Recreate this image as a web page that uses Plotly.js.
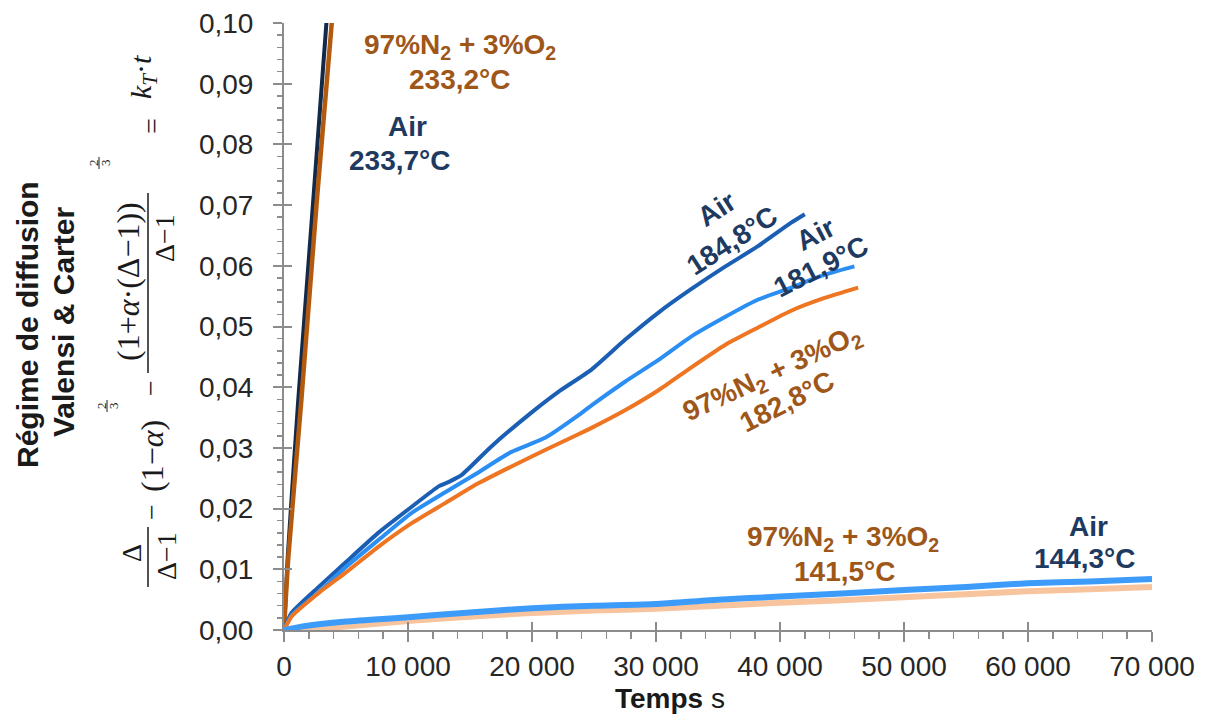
<!DOCTYPE html>
<html>
<head>
<meta charset="utf-8">
<script src="https://cdn.plot.ly/plotly-3.0.1.min.js"></script>
<style>html,body{margin:0;padding:0;background:#fff;}#chart{width:1208px;height:716px;}</style>
</head>
<body>
<div id="chart"></div>
<script>
// ---- Data (time in s, Valensi & Carter function) ----
const airHot_t   = [0, 300, 1150, 2360, 3420, 3600];
const airHot_v   = [0, 0.012, 0.0379, 0.0708, 0.1, 0.1045];
const n2Hot_t    = [0, 350, 1400, 2650, 3850, 4000];
const n2Hot_v    = [0, 0.012, 0.0379, 0.0708, 0.1, 0.104];

const air1848_t  = [0, 600, 2800, 5000, 7600, 10300, 12500, 13300, 14300, 16700, 20000, 22100, 24800, 27500, 30200, 32800, 35600, 38200, 40900, 42000];
const air1848_v  = [0, 0.0028, 0.0071, 0.0112, 0.0160, 0.0203, 0.0237, 0.0244, 0.0255, 0.0302, 0.0359, 0.0392, 0.0429, 0.0478, 0.0523, 0.0561, 0.0599, 0.0632, 0.0671, 0.0685];

const air1819_t  = [0, 600, 2800, 5000, 7600, 10300, 13000, 15700, 18300, 21100, 23700, 24800, 27500, 30200, 32800, 35600, 38200, 40900, 43000, 44400, 46000];
const air1819_v  = [0, 0.0024, 0.0062, 0.0104, 0.0148, 0.0193, 0.0227, 0.0260, 0.0293, 0.0317, 0.0353, 0.0370, 0.0409, 0.0445, 0.0483, 0.0516, 0.0544, 0.0564, 0.0581, 0.0590, 0.0599];

const n21828_t   = [0, 600, 2800, 5000, 7600, 10300, 13000, 15700, 18300, 21100, 23700, 24800, 27500, 30200, 32800, 35600, 38200, 40900, 43600, 46300];
const n21828_v   = [0, 0.0022, 0.0061, 0.0095, 0.0137, 0.0176, 0.0209, 0.0242, 0.0269, 0.0297, 0.0322, 0.0333, 0.0362, 0.0395, 0.0432, 0.0470, 0.0498, 0.0526, 0.0547, 0.0564];

const air1443_t  = [0, 1500, 5000, 10000, 15000, 20000, 25000, 30000, 35000, 40000, 45000, 50000, 55000, 60000, 65000, 70000];
const air1443_v  = [0, 0.0006, 0.0014, 0.0021, 0.0029, 0.0036, 0.0040, 0.0043, 0.0050, 0.0055, 0.0060, 0.0066, 0.0071, 0.0077, 0.0080, 0.0084];

const n21415_t   = [0, 4000, 10000, 15000, 20000, 25000, 30000, 35000, 40000, 45000, 50000, 55000, 60000, 65000, 70000];
const n21415_v   = [0, 0.0004, 0.0015, 0.0022, 0.0028, 0.0032, 0.0035, 0.0040, 0.0045, 0.0049, 0.0054, 0.0059, 0.0064, 0.0067, 0.0071];

const xTickVals = [0, 10000, 20000, 30000, 40000, 50000, 60000, 70000];
const yTickVals = [0, 0.01, 0.02, 0.03, 0.04, 0.05, 0.06, 0.07, 0.08, 0.09, 0.10];

// ---- Layout geometry helpers ----
const L = 284, R = 1152, T = 23, B = 630;
const px = x => (x - L) / (R - L);
const py = y => (B - y) / (B - T);

const NAVY = '#1F3A60', BROWN = '#9E5719';
const SANS = 'Liberation Sans, Arial, sans-serif';
const SERIF = 'Liberation Serif, Times New Roman, serif';

function ann(text, x, y, o) {
  o = o || {};
  return {
    text: text, xref: 'paper', yref: 'paper', x: px(x), y: py(y),
    xanchor: 'center', yanchor: 'middle', showarrow: false,
    font: {family: o.family || SANS, size: o.size || 28, color: o.color || '#1a1a1a'},
    textangle: o.angle || 0
  };
}
const math = (text, x, y, size) => ann(text, x, y, {angle: -90, family: SERIF, size: size || 28});

function line(name, t, v, color, width) {
  return {x: t, y: v, name: name, type: 'scatter', mode: 'lines',
          line: {color: color, width: width, shape: 'spline', smoothing: 0.5},
          hoverinfo: 'skip', showlegend: false};
}

const traces = [
  line('Air 233,7°C', airHot_t, airHot_v, '#12294A', 4),
  line('97%N2 + 3%O2 233,2°C', n2Hot_t, n2Hot_v, '#B45A0E', 4.5),
  line('Air 184,8°C', air1848_t, air1848_v, '#1A5FB4', 4),
  line('Air 181,9°C', air1819_t, air1819_v, '#2B8EF2', 4),
  line('97%N2 + 3%O2 182,8°C', n21828_t, n21828_v, '#EE7522', 4),
  line('97%N2 + 3%O2 141,5°C', n21415_t, n21415_v, '#F8C49E', 6),
  line('Air 144,3°C', air1443_t, air1443_v, '#3D9BFA', 6),
  {x: [0], y: [0], xaxis: 'x2', yaxis: 'y2', mode: 'markers', marker: {opacity: 0}, hoverinfo: 'skip', showlegend: false}
];

const GRAY = '#8C8C8C';
const tickFont = {family: SANS, size: 28, color: '#262626'};

const annotations = [
  // series labels
  ann('<b>97%N<sub>2</sub> + 3%O<sub>2</sub></b>', 460, 46, {color: BROWN}),
  ann('<b>233,2°C</b>', 460, 80, {color: BROWN}),
  ann('<b>Air</b>', 407, 127, {color: NAVY}),
  ann('<b>233,7°C</b>', 400, 160, {color: NAVY}),
  ann('<b>Air</b>', 716, 209, {color: NAVY, angle: -33}),
  ann('<b>184,8°C</b>', 732, 240, {color: NAVY, angle: -33}),
  ann('<b>Air</b>', 815, 234, {color: NAVY, angle: -27}),
  ann('<b>181,9°C</b>', 821, 266, {color: NAVY, angle: -27}),
  ann('<b>97%N<sub>2</sub> + 3%O<sub>2</sub></b>', 772, 374, {color: BROWN, angle: -25}),
  ann('<b>182,8°C</b>', 787, 401, {color: BROWN, angle: -27}),
  ann('<b>97%N<sub>2</sub> + 3%O<sub>2</sub></b>', 843, 538, {color: BROWN}),
  ann('<b>141,5°C</b>', 845, 571, {color: BROWN}),
  ann('<b>Air</b>', 1088, 526, {color: NAVY}),
  ann('<b>144,3°C</b>', 1085, 558, {color: NAVY}),
  // x title
  ann('<b>Temps</b> s', 670, 698, {size: 28}),
  // y title
  ann('<b>Régime de diffusion</b>', 27, 325, {angle: -90, size: 30}),
  ann('<b>Valensi &amp; Carter</b>', 63, 322, {angle: -90, size: 30}),
  // formula pieces
  math('Δ', 131, 553),
  math('Δ−1', 166, 556),
  math('−', 151, 512),
  math('(1−<i>α</i>)', 152, 456, 32),
  math('2', 101, 406, 13),
  math('3', 113, 406, 13),
  math('−', 151, 388),
  math('(1+<i>α</i>·(Δ−1))', 128, 282, 32),
  math('2', 93, 163, 13),
  math('3', 105, 163, 13),
  math('Δ−1', 164, 238),
  math('=', 152, 126),
  math('<i>k</i><sub><i>T</i></sub>·<i>t</i>', 143, 77, 30)
];

const shp = (x0, y0, x1, y1, w) => ({type: 'line', xref: 'paper', yref: 'paper',
  x0: px(x0), y0: py(y0), x1: px(x1), y1: py(y1), line: {color: '#1a1a1a', width: w}});

const shapes = [
  shp(148, 527, 148, 587, 1.5),
  shp(148, 193, 148, 373, 1.5),
  shp(107, 400, 107, 412, 1),
  shp(99, 157, 99, 169, 1)
];

const layout = {
  width: 1208, height: 716,
  margin: {l: L, r: 1208 - R, t: T, b: 716 - B, pad: 0},
  paper_bgcolor: '#ffffff', plot_bgcolor: '#ffffff',
  separators: ', ',
  showlegend: false,
  xaxis: {
    range: [0, 70000], tickvals: xTickVals, tickformat: ',d',
    ticks: 'outside', ticklen: 10, tickwidth: 2, tickcolor: GRAY,
    showline: true, linecolor: GRAY, linewidth: 2, showgrid: false, zeroline: false,
    minor: {dtick: 2000, ticks: 'outside', ticklen: 7, tickwidth: 1.5, tickcolor: GRAY},
    tickfont: tickFont, ticklabelstandoff: 0, fixedrange: true
  },
  yaxis: {
    range: [0, 0.1], tickvals: yTickVals, tickformat: '.2f',
    ticks: 'outside', ticklen: 9, tickwidth: 2, tickcolor: GRAY,
    showline: true, linecolor: GRAY, linewidth: 2, showgrid: false, zeroline: false,
    minor: {dtick: 0.002, ticks: 'outside', ticklen: 5, tickwidth: 1.5, tickcolor: GRAY},
    tickfont: tickFont, ticklabelstandoff: 14, fixedrange: true
  },
  xaxis2: {
    overlaying: 'x', anchor: 'y2', side: 'bottom', range: [0, 70000], tickvals: xTickVals,
    ticks: 'inside', ticklen: 8, tickwidth: 2, tickcolor: GRAY,
    showticklabels: false, showline: false, showgrid: false, zeroline: false, fixedrange: true
  },
  yaxis2: {
    overlaying: 'y', anchor: 'x2', side: 'left', range: [0, 0.1], tickvals: yTickVals,
    ticks: 'inside', ticklen: 8, tickwidth: 2, tickcolor: GRAY,
    showticklabels: false, showline: false, showgrid: false, zeroline: false, fixedrange: true
  },
  annotations: annotations,
  shapes: shapes
};

Plotly.newPlot('chart', traces, layout, {displayModeBar: false, staticPlot: true});
</script>
</body>
</html>
